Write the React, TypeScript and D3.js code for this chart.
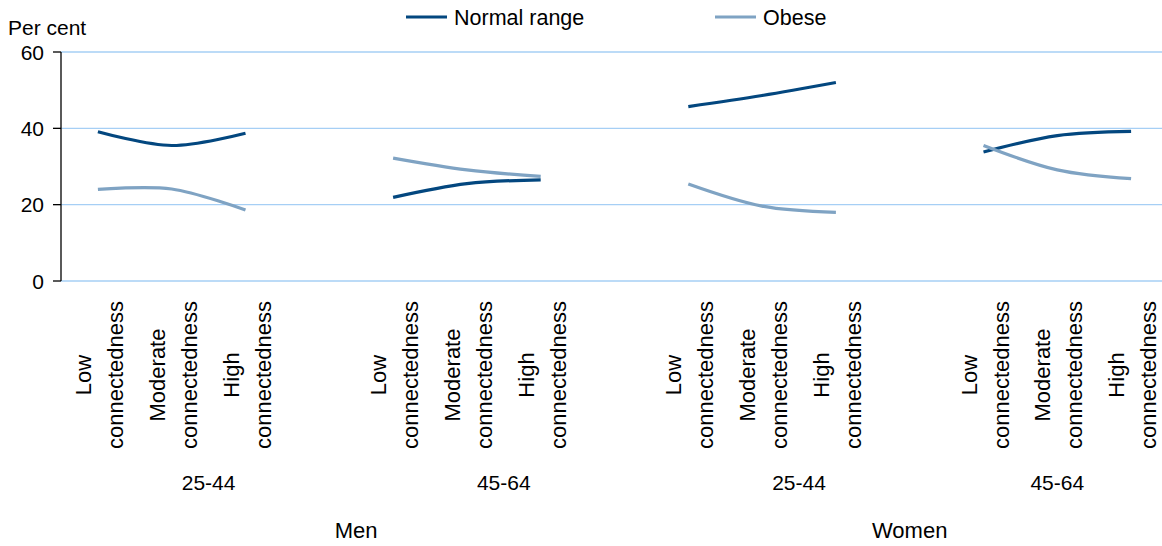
import * as d3 from "d3";

// categories and values
const levels = ["Low connectedness", "Moderate connectedness", "High connectedness"];
const ageGroups = ["25-44", "45-64", "25-44", "45-64"];
const sexes = ["Men", "Women"];
const normalRange = [39.1, 35.5, 38.7, 21.9, 25.5, 26.5, 45.7, 48.6, 52.0, 33.8, 38.1, 39.2];
const obese = [24.0, 24.1, 18.6, 32.2, 29.1, 27.4, 25.4, 19.6, 18.0, 35.5, 29.1, 26.8];
const yTicks = [0, 20, 40, 60];

const W = 1162;
const H = 546;
const left = 61;
const FONT = "'Liberation Sans', Arial, sans-serif";

const series = [
  { name: "Normal range", values: normalRange, color: "#03477f" },
  { name: "Obese", values: obese, color: "#7fa3c3" },
];

// 4 slots per age group (3 levels + a blank), last group has no trailing blank
const nSlots = ageGroups.length * 4 - 1;
const slotOf = (i: number) => Math.floor(i / 3) * 4 + (i % 3);

function App() {
  const x = d3
    .scaleBand<number>()
    .domain(d3.range(nSlots))
    .range([left, left + nSlots * 73.8])
    .padding(0);
  const bw = x.bandwidth();
  const cx = (slot: number) => (x(slot) as number) + bw / 2;
  const y = d3.scaleLinear().domain([0, 60]).range([281, 52]);

  const spanCenter = (a: number, b: number) =>
    ((x(a) as number) + (x(b) as number) + bw) / 2;

  return (
    <svg
      width={W}
      height={H}
      style={{ position: "absolute", left: 0, top: 0, background: "#fff" }}
      fontFamily={FONT}
    >
      {/* gridlines */}
      {yTicks.map((t) => (
        <line
          key={"g" + t}
          x1={left}
          x2={W}
          y1={y(t)}
          y2={y(t)}
          stroke="#a6cff5"
          strokeWidth={1.3}
        />
      ))}

      {/* y axis */}
      <line x1={left} x2={left} y1={y(60)} y2={y(0)} stroke="#000" strokeWidth={1.3} />
      {yTicks.map((t) => (
        <g key={"t" + t}>
          <line x1={left - 8} x2={left} y1={y(t)} y2={y(t)} stroke="#000" strokeWidth={1.3} />
          <text x={44} y={y(t)} dy="0.36em" textAnchor="end" fontSize={21}>
            {t}
          </text>
        </g>
      ))}
      <text x={8} y={35} fontSize={21}>
        Per cent
      </text>

      {/* series lines, one path per age group */}
      {series.map((s) =>
        ageGroups.map((_, g) => {
          const vals = s.values.slice(g * 3, g * 3 + 3);
          const l = d3
            .line<number>()
            .x((_, k) => cx(g * 4 + k))
            .y((v) => y(v))
            .curve(d3.curveCardinal);
          return (
            <path
              key={s.name + g}
              d={l(vals) || ""}
              fill="none"
              stroke={s.color}
              strokeWidth={3.2}
            />
          );
        })
      )}

      {/* category labels */}
      {normalRange.map((_, i) => {
        const words = levels[i % 3].split(" ");
        return (
          <text
            key={"c" + i}
            transform={`translate(${cx(slotOf(i))},375) rotate(-90)`}
            textAnchor="middle"
            fontSize={22}
          >
            <tspan x={0} y={-7}>
              {words[0]}
            </tspan>
            <tspan x={0} y={25}>
              {words[1]}
            </tspan>
          </text>
        );
      })}

      {ageGroups.map((a, g) => (
        <text
          key={"a" + g}
          x={spanCenter(g * 4, Math.min(g * 4 + 3, nSlots - 1))}
          y={490}
          textAnchor="middle"
          fontSize={21}
        >
          {a}
        </text>
      ))}

      {sexes.map((s, k) => (
        <text
          key={s}
          x={spanCenter(k * 8, Math.min(k * 8 + 7, nSlots - 1))}
          y={538}
          textAnchor="middle"
          fontSize={22}
        >
          {s}
        </text>
      ))}

      {/* legend */}
      {series.map((s, k) => {
        const lx = k === 0 ? 406 : 715;
        return (
          <g key={"l" + s.name}>
            <line x1={lx} x2={lx + 41} y1={17} y2={17} stroke={s.color} strokeWidth={3.2} />
            <text x={lx + 48} y={25} fontSize={21.5}>
              {s.name}
            </text>
          </g>
        );
      })}
    </svg>
  );
}

export default App;
